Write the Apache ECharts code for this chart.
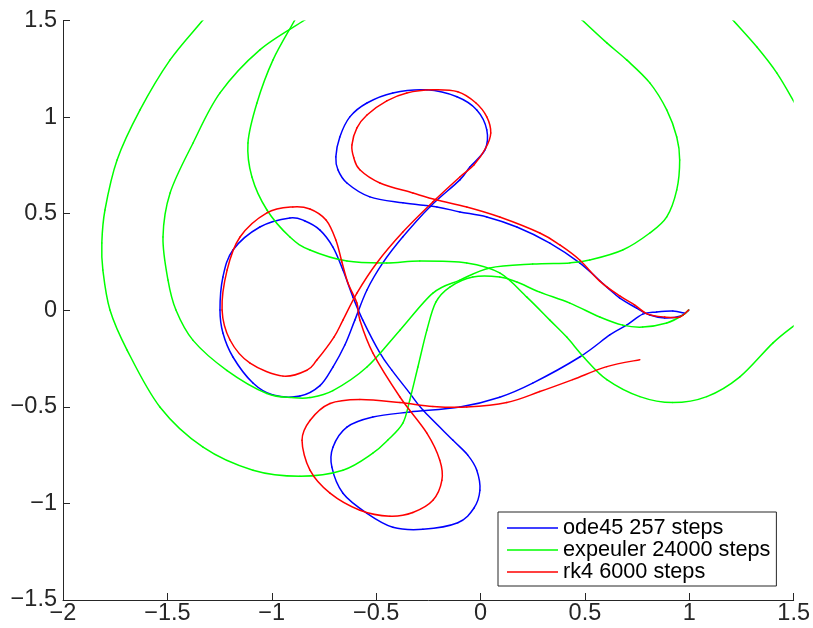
<!DOCTYPE html>
<html><head><meta charset="utf-8">
<script src="https://cdn.jsdelivr.net/npm/echarts@6/dist/echarts.min.js"></script>
<style>html,body{margin:0;padding:0;background:#fff}#c{width:813px;height:628px}</style>
</head><body><div id="c"></div>
<script>
const seriesNames = ['ode45 257 steps', 'expeuler 24000 steps', 'rk4 6000 steps'];
const xTicks = [-2, -1.5, -1, -0.5, 0, 0.5, 1, 1.5];
const yTicks = [-1.5, -1, -0.5, 0, 0.5, 1, 1.5];

// ode45 trajectory (x, y)
const ode45 = [
  [0.997, 0.001], [0.959, -0.030], [0.882, -0.040], [0.811, -0.025], [0.748, 0.011],
  [0.667, 0.063], [0.605, 0.120], [0.475, 0.245], [0.332, 0.348], [0.174, 0.431],
  [0.030, 0.483], [-0.099, 0.509], [-0.209, 0.535], [-0.372, 0.556], [-0.530, 0.587],
  [-0.640, 0.659], [-0.683, 0.727], [-0.693, 0.794], [-0.674, 0.897], [-0.626, 1.001],
  [-0.544, 1.073], [-0.420, 1.125], [-0.257, 1.141], [-0.113, 1.105], [-0.018, 1.037],
  [0.030, 0.934], [0.021, 0.830], [-0.051, 0.742], [-0.099, 0.675], [-0.243, 0.535],
  [-0.372, 0.380], [-0.468, 0.245], [-0.544, 0.105], [-0.602, -0.051], [-0.650, -0.180],
  [-0.707, -0.294], [-0.769, -0.390], [-0.865, -0.444], [-0.994, -0.439], [-1.090, -0.377],
  [-1.186, -0.242], [-1.234, -0.118], [-1.248, 0.001], [-1.234, 0.172], [-1.186, 0.312],
  [-1.057, 0.431], [-0.913, 0.478], [-0.841, 0.462], [-0.769, 0.415], [-0.707, 0.327],
  [-0.659, 0.208], [-0.611, 0.068], [-0.564, -0.051], [-0.482, -0.221], [-0.425, -0.310],
  [-0.339, -0.429], [-0.276, -0.517], [-0.133, -0.672], [-0.061, -0.750], [-0.018, -0.828],
  [-0.003, -0.932], [-0.032, -1.025], [-0.109, -1.100], [-0.276, -1.134], [-0.420, -1.123],
  [-0.544, -1.051], [-0.659, -0.947], [-0.712, -0.812], [-0.707, -0.709], [-0.640, -0.605],
  [-0.516, -0.553], [-0.339, -0.527], [-0.099, -0.501], [0.092, -0.450], [0.250, -0.377],
  [0.475, -0.242], [0.619, -0.128], [0.700, -0.077], [0.777, -0.020], [0.844, -0.009],
  [0.921, -0.004], [0.978, -0.015]
];

// explicit Euler trajectory, split where it leaves the axes
const expeulerA = [
  [0.997, 0.001], [0.969, -0.025], [0.892, -0.066], [0.777, -0.087], [0.681, -0.077],
  [0.571, -0.035], [0.428, 0.037], [0.284, 0.094], [0.174, 0.146], [0.092, 0.172],
  [-0.037, 0.172], [-0.147, 0.120], [-0.214, 0.042], [-0.257, -0.103], [-0.300, -0.294],
  [-0.339, -0.465], [-0.372, -0.584], [-0.444, -0.672], [-0.516, -0.740], [-0.659, -0.828],
  [-0.865, -0.859], [-1.090, -0.828], [-1.329, -0.709], [-1.535, -0.502], [-1.693, -0.206],
  [-1.775, 0.001], [-1.809, 0.208], [-1.814, 0.348], [-1.799, 0.519], [-1.741, 0.778],
  [-1.631, 1.037], [-1.487, 1.296], [-1.329, 1.504], [-1.281, 1.581]
];
const expeulerB = [
  [-0.793, 1.555], [-0.841, 1.504], [-1.057, 1.348], [-1.248, 1.125], [-1.377, 0.866],
  [-1.487, 0.607], [-1.521, 0.379], [-1.497, 0.156], [-1.459, 0.001], [-1.377, -0.156],
  [-1.214, -0.312], [-1.023, -0.431], [-0.899, -0.452], [-0.817, -0.452], [-0.707, -0.416],
  [-0.544, -0.294], [-0.386, -0.103], [-0.228, 0.089], [-0.099, 0.156], [0.045, 0.219],
  [0.250, 0.239], [0.428, 0.245], [0.523, 0.260], [0.681, 0.312], [0.811, 0.400],
  [0.892, 0.483], [0.940, 0.623], [0.954, 0.778], [0.940, 0.897], [0.892, 1.037],
  [0.811, 1.177], [0.700, 1.296], [0.605, 1.384], [0.485, 1.504], [0.437, 1.555]
];
const expeulerC = [
  [-0.865, 1.566], [-0.889, 1.504], [-0.994, 1.296], [-1.071, 1.073], [-1.114, 0.866],
  [-1.095, 0.690], [-1.023, 0.519], [-0.913, 0.379], [-0.817, 0.312], [-0.640, 0.255],
  [-0.449, 0.245], [-0.291, 0.255], [-0.066, 0.245], [0.092, 0.193], [0.222, 0.068],
  [0.332, -0.051], [0.413, -0.139], [0.499, -0.248], [0.605, -0.359], [0.763, -0.447],
  [0.921, -0.478], [1.084, -0.447], [1.241, -0.346], [1.400, -0.170], [1.505, -0.077],
  [1.552, -0.040]
];
const expeulerD = [
  [1.170, 1.555], [1.208, 1.504], [1.323, 1.364], [1.419, 1.229], [1.505, 1.073], [1.529, 1.026]
];

// rk4 trajectory
const rk4 = [
  [0.997, 0.001], [0.954, -0.035], [0.882, -0.035], [0.801, -0.020], [0.739, 0.027],
  [0.667, 0.074], [0.571, 0.151], [0.475, 0.260], [0.380, 0.338], [0.284, 0.400],
  [0.092, 0.483], [-0.066, 0.535], [-0.209, 0.571], [-0.324, 0.607], [-0.482, 0.659],
  [-0.578, 0.727], [-0.607, 0.789], [-0.616, 0.856], [-0.592, 0.944], [-0.544, 1.011],
  [-0.449, 1.084], [-0.353, 1.125], [-0.228, 1.141], [-0.109, 1.131], [-0.023, 1.074],
  [0.030, 1.001], [0.049, 0.918], [0.025, 0.840], [-0.032, 0.752], [-0.099, 0.690],
  [-0.228, 0.561], [-0.372, 0.405], [-0.497, 0.245], [-0.592, 0.089], [-0.659, -0.051],
  [-0.702, -0.139], [-0.784, -0.258], [-0.831, -0.310], [-0.946, -0.341], [-1.104, -0.274],
  [-1.200, -0.154], [-1.238, 0.001], [-1.214, 0.208], [-1.152, 0.379], [-1.023, 0.504],
  [-0.899, 0.535], [-0.817, 0.524], [-0.740, 0.467], [-0.693, 0.364], [-0.664, 0.250],
  [-0.635, 0.141], [-0.592, 0.037], [-0.578, -0.051], [-0.516, -0.221], [-0.386, -0.449],
  [-0.257, -0.636], [-0.195, -0.776], [-0.185, -0.880], [-0.228, -0.984], [-0.324, -1.047],
  [-0.434, -1.066], [-0.578, -1.035], [-0.721, -0.947], [-0.817, -0.828], [-0.855, -0.673],
  [-0.817, -0.571], [-0.721, -0.483], [-0.578, -0.462], [-0.386, -0.478], [-0.228, -0.498],
  [-0.066, -0.501], [0.126, -0.478], [0.284, -0.421], [0.442, -0.359], [0.605, -0.292],
  [0.763, -0.256]
];

const colors = ['#0000ff', '#00ff00', '#ff0000'];
const axisColor = '#262626';
const font = '"Liberation Sans", Arial, Helvetica, sans-serif';
const tickFormat = v => (v < 0 ? '\u2212' + Math.abs(v) : String(v));

// Each data point starts one curve piece to the next point; neighbours shape the
// Catmull-Rom tangents. All positions come from the axes via api.coord.
function curveSeries(name, pts, color) {
  return {
    name: name, type: 'custom', coordinateSystem: 'cartesian2d',
    data: pts, encode: { x: 0, y: 1 }, animation: false, silent: true,
    itemStyle: { color: color },
    renderItem: function (params, api) {
      const i = params.dataIndex;
      const n = pts.length;
      if (i >= n - 1) return null;
      const at = k => api.coord(pts[Math.max(0, Math.min(n - 1, k))]);
      const p0 = at(i - 1);
      const p1 = api.coord([api.value(0), api.value(1)]);
      const p2 = at(i + 1);
      const p3 = at(i + 2);
      const cs = params.coordSys;
      return {
        type: 'bezierCurve',
        shape: {
          x1: p1[0], y1: p1[1], x2: p2[0], y2: p2[1],
          cpx1: p1[0] + (p2[0] - p0[0]) / 6, cpy1: p1[1] + (p2[1] - p0[1]) / 6,
          cpx2: p2[0] - (p3[0] - p1[0]) / 6, cpy2: p2[1] - (p3[1] - p1[1]) / 6
        },
        style: { stroke: color, fill: null, lineWidth: 1.5, lineCap: 'round' },
        clipPath: { type: 'rect', shape: { x: cs.x, y: cs.y, width: cs.width, height: cs.height } }
      };
    }
  };
}

const chart = echarts.init(document.getElementById('c'), null, { renderer: 'canvas' });
chart.setOption({
  animation: false,
  backgroundColor: '#ffffff',
  textStyle: { fontFamily: font },
  grid: { left: 63, right: 19, top: 20.5, bottom: 28, containLabel: false },
  xAxis: {
    type: 'value', min: xTicks[0], max: xTicks[xTicks.length - 1], interval: 0.5,
    axisLine: { show: true, onZero: false, lineStyle: { color: axisColor, width: 1 } },
    axisTick: { show: true, inside: true, length: 7, lineStyle: { color: axisColor } },
    axisLabel: { color: axisColor, fontSize: 23.5, margin: 2, fontFamily: font, formatter: tickFormat, showMinLabel: true, showMaxLabel: true },
    splitLine: { show: false }
  },
  yAxis: {
    type: 'value', min: yTicks[0], max: yTicks[yTicks.length - 1], interval: 0.5,
    axisLine: { show: true, onZero: false, lineStyle: { color: axisColor, width: 1 } },
    axisTick: { show: true, inside: true, length: 7, lineStyle: { color: axisColor } },
    axisLabel: { color: axisColor, fontSize: 23.5, margin: 6, fontFamily: font, formatter: tickFormat, showMinLabel: true, showMaxLabel: true },
    splitLine: { show: false }
  },
  legend: {
    data: seriesNames, orient: 'vertical', left: 498, top: 512,
    padding: [5, 6, 3, 9], itemGap: 0, itemWidth: 51, itemHeight: 1.5, icon: 'rect',
    backgroundColor: '#ffffff', borderColor: axisColor, borderWidth: 1, borderRadius: 0,
    selectedMode: false,
    textStyle: { color: '#000000', fontSize: 21.7, lineHeight: 21, fontFamily: font },
    itemTextGap: 5
  },
  series: [
    curveSeries(seriesNames[0], ode45, colors[0]),
    curveSeries(seriesNames[1], expeulerA, colors[1]),
    curveSeries(seriesNames[1], expeulerB, colors[1]),
    curveSeries(seriesNames[1], expeulerC, colors[1]),
    curveSeries(seriesNames[1], expeulerD, colors[1]),
    curveSeries(seriesNames[2], rk4, colors[2])
  ]
});
</script>
</body></html>
